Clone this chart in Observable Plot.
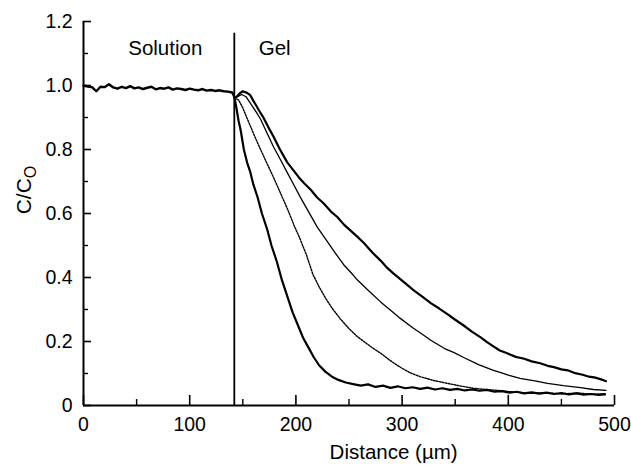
<!DOCTYPE html>
<html><head><meta charset="utf-8">
<script src="https://cdn.jsdelivr.net/npm/d3@7"></script>
<script src="https://cdn.jsdelivr.net/npm/@observablehq/plot@0.6"></script>
<style>
body{margin:0;background:#fff;}
#chart svg{display:block;}
</style>
</head><body><div id="chart"></div>
<script>
// Tick values and labels
const xMajor = [0, 100, 200, 300, 400, 500];
const xMinor = [50, 150, 250, 350, 450];
const yMajor = [0, 0.2, 0.4, 0.6, 0.8, 1.0, 1.2];
const yMinor = [0.1, 0.3, 0.5, 0.7, 0.9, 1.1];
const yTickLabels = ["0", "0.2", "0.4", "0.6", "0.8", "1.0", "1.2"];
const xAxisLabel = "Distance (µm)";
const yAxisLabelMain = "C/C";
const yAxisLabelSub = "O";
const regionLabels = ["Solution", "Gel"];
const regionLabelX = [77, 180];
const regionLabelY = [1.117, 1.117];
const interfaceX = 142;
const interfaceTop = 1.163;

// Solution region profile
const solutionDist = [0,4,8,12,16,20,24,28,32,36,40,44,48,52,56,60,64,68,72,76,80,84,88,92,96,100,104,108,112,116,120,124,128,132,136,140,142];
const solutionConc = [1.000,0.997,0.995,0.982,0.996,0.995,1.004,0.994,0.990,0.996,0.992,0.998,0.991,0.994,0.989,0.993,0.996,0.988,0.992,0.990,0.994,0.987,0.991,0.989,0.986,0.990,0.987,0.985,0.989,0.984,0.986,0.983,0.985,0.982,0.981,0.978,0.965];

// Gel profile 1 (steepest, thick)
const gel1Dist = [142,144,146,148,151,154,157,160,164,168,173,177,182,187,192,197,202,207,212,217,222,228,234,240,247,254,261,268,275,282,289,296,303,310,317,324,331,338,345,352,359,366,373,380,387,394,401,408,415,422,429,436,443,450,457,464,471,478,485,491];
const gel1Conc = [0.965,0.93,0.89,0.86,0.80,0.76,0.73,0.69,0.65,0.60,0.55,0.50,0.45,0.39,0.34,0.29,0.25,0.21,0.18,0.15,0.125,0.105,0.09,0.08,0.072,0.067,0.062,0.066,0.058,0.062,0.055,0.060,0.054,0.057,0.052,0.056,0.050,0.054,0.049,0.052,0.047,0.050,0.046,0.049,0.043,0.045,0.040,0.043,0.038,0.041,0.037,0.040,0.036,0.039,0.035,0.038,0.034,0.036,0.033,0.035];

// Gel profile 2 (dotted)
const gel2Dist = [142,146,150,155,160,166,173,180,186,192,198,204,210,216,222,228,235,242,250,258,266,273,280,289,298,307,317,330,343,355,367,379,390,405,421,435,450,465,480,492];
const gel2Conc = [0.96,0.955,0.93,0.89,0.85,0.805,0.755,0.705,0.66,0.615,0.565,0.52,0.47,0.41,0.37,0.335,0.30,0.27,0.24,0.215,0.195,0.178,0.163,0.14,0.12,0.103,0.09,0.078,0.069,0.061,0.054,0.050,0.047,0.042,0.038,0.040,0.036,0.039,0.035,0.037];

// Gel profile 3 (thin)
const gel3Dist = [145,149,153,158,163,167,173,179,186,192,198,204,212,220,228,235,245,252,258,268,280,290,298,310,318,327,340,349,358,372,386,393,400,411,425,437,452,468,480,492];
const gel3Conc = [0.965,0.972,0.965,0.94,0.915,0.893,0.85,0.808,0.765,0.727,0.69,0.652,0.605,0.558,0.52,0.486,0.44,0.415,0.392,0.36,0.323,0.295,0.273,0.243,0.225,0.204,0.178,0.165,0.150,0.128,0.110,0.103,0.095,0.085,0.077,0.069,0.062,0.056,0.050,0.047];

// Gel profile 4 (outermost, thick)
const gel4Dist = [143,147,150,154,157,160,163,166,169,174,179,185,192,197,203,208,214,220,226,233,239,245,251,258,264,272,280,286,292,300,311,319,327,335,343,350,358,366,374,380,386,392,399,407,415,422,430,437,443,450,456,463,470,476,482,488,492];
const gel4Conc = [0.96,0.975,0.982,0.977,0.97,0.952,0.935,0.918,0.902,0.87,0.84,0.80,0.759,0.738,0.712,0.694,0.674,0.65,0.632,0.606,0.589,0.566,0.548,0.527,0.508,0.478,0.452,0.43,0.412,0.39,0.36,0.34,0.32,0.303,0.285,0.268,0.25,0.23,0.213,0.198,0.185,0.172,0.163,0.152,0.146,0.138,0.132,0.124,0.12,0.113,0.11,0.101,0.096,0.09,0.087,0.081,0.076];

const toRows = (xs, ys) => xs.map((x, i) => ({x, y: ys[i]}));
const solution = toRows(solutionDist, solutionConc);
const gel1 = toRows(gel1Dist, gel1Conc);
const gel2 = toRows(gel2Dist, gel2Conc);
const gel3 = toRows(gel3Dist, gel3Conc);
const gel4 = toRows(gel4Dist, gel4Conc);
const labels = regionLabels.map((t, i) => ({t, x: regionLabelX[i], y: regionLabelY[i]}));

const FONT = "'Liberation Sans', Arial, Helvetica, sans-serif";
const yFmt = d => yTickLabels[yMajor.indexOf(d)];

const W = 631, H = 467, ML = 83, MR = 17, MT = 21, MB = 62;
const innerW = W - ML - MR, innerH = H - MT - MB;

const chart = Plot.plot({
  width: W,
  height: H,
  marginLeft: ML,
  marginRight: MR,
  marginTop: MT,
  marginBottom: MB,
  x: {domain: [0, 500]},
  y: {domain: [0, 1.2]},
  style: {fontFamily: FONT, background: "#fff", color: "#000"},
  marks: [
    // inward ticks (pointing into the plot)
    Plot.tickX(xMajor, {x: d => d, insetTop: innerH - 10, stroke: "#000", strokeWidth: 1.6}),
    Plot.tickX(xMinor, {x: d => d, insetTop: innerH - 6, stroke: "#000", strokeWidth: 1.4}),
    Plot.tickY(yMajor, {y: d => d, insetRight: innerW - 8, stroke: "#000", strokeWidth: 1.6}),
    Plot.tickY(yMinor, {y: d => d, insetRight: innerW - 5, stroke: "#000", strokeWidth: 1.4}),
    // axis lines
    Plot.ruleY([0], {stroke: "#000", strokeWidth: 2}),
    Plot.ruleX([0], {stroke: "#000", strokeWidth: 2}),
    // tick labels
    Plot.axisX(xMajor, {tickSize: 0, tickPadding: 12, fontSize: 19.5, label: null}),
    Plot.axisY(yMajor, {tickSize: 0, tickPadding: 11, fontSize: 19.5, tickFormat: yFmt, label: null}),
    // interface line
    Plot.ruleX([interfaceX], {y1: 0, y2: interfaceTop, stroke: "#000", strokeWidth: 1.8}),
    // profiles
    Plot.line(solution, {x: "x", y: "y", stroke: "#000", strokeWidth: 2.4}),
    Plot.line(gel1, {x: "x", y: "y", stroke: "#000", strokeWidth: 2.2}),
    Plot.line(gel2, {x: "x", y: "y", stroke: "#000", strokeWidth: 1.4, strokeDasharray: "1.6,1.4"}),
    Plot.line(gel3, {x: "x", y: "y", stroke: "#000", strokeWidth: 1.3}),
    Plot.line(gel4, {x: "x", y: "y", stroke: "#000", strokeWidth: 2.2}),
    // region labels
    Plot.text(labels, {x: "x", y: "y", text: "t", fontSize: 20.5, fill: "#000"}),
    // x axis label
    Plot.text([xAxisLabel], {x: 292, frameAnchor: "bottom", dy: 53, fontSize: 20.5, fill: "#000"})
  ]
});

document.getElementById("chart").appendChild(chart);

// y axis label with subscript
const svg = d3.select(chart);
const yl = svg.append("text")
  .attr("transform", "translate(31,190) rotate(-90)")
  .attr("text-anchor", "middle")
  .attr("font-family", FONT)
  .attr("font-size", 21)
  .attr("fill", "#000");
yl.append("tspan").text(yAxisLabelMain);
yl.append("tspan").attr("font-size", 16).attr("dy", "0.3em").text(yAxisLabelSub);
</script>
</body></html>
